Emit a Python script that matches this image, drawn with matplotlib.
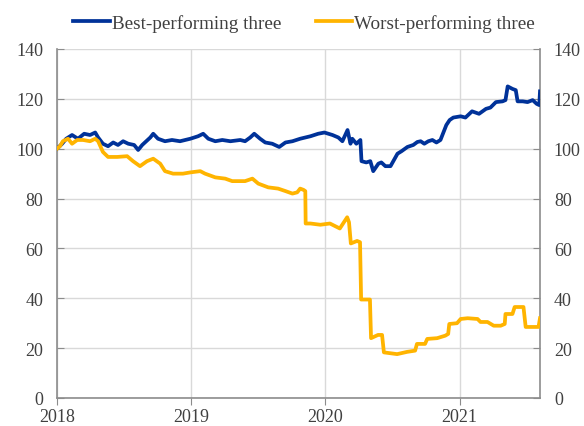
import pandas as pd
import matplotlib.pyplot as plt
import matplotlib.dates as mdates

plt.rcParams["font.family"] = ["Liberation Serif", "DejaVu Serif"]

best_dates = [
    "2018-01-01", "2018-01-15", "2018-01-26", "2018-02-11", "2018-02-27", "2018-03-16",
    "2018-04-01", "2018-04-15", "2018-04-23", "2018-05-06", "2018-05-20", "2018-06-03",
    "2018-06-16", "2018-06-30", "2018-07-14", "2018-07-30", "2018-08-10", "2018-08-21",
    "2018-09-01", "2018-09-12", "2018-09-20", "2018-10-03", "2018-10-22", "2018-11-10",
    "2018-12-02", "2018-12-30", "2019-01-20", "2019-02-03", "2019-02-17", "2019-03-08",
    "2019-03-27", "2019-04-18", "2019-05-15", "2019-05-28", "2019-06-11", "2019-06-22",
    "2019-07-08", "2019-07-22", "2019-08-10", "2019-08-29", "2019-09-15", "2019-10-04",
    "2019-10-25", "2019-11-22", "2019-12-13", "2019-12-30", "2020-01-21", "2020-02-06",
    "2020-02-17", "2020-03-02", "2020-03-10", "2020-03-15", "2020-03-26", "2020-04-06",
    "2020-04-09", "2020-04-22", "2020-05-03", "2020-05-11", "2020-05-25", "2020-06-02",
    "2020-06-13", "2020-06-27", "2020-07-16", "2020-07-27", "2020-08-12", "2020-08-28",
    "2020-09-08", "2020-09-17", "2020-09-27", "2020-10-08", "2020-10-19", "2020-10-30",
    "2020-11-10", "2020-11-18", "2020-11-26", "2020-12-05", "2020-12-15", "2021-01-04",
    "2021-01-17", "2021-02-04", "2021-02-23", "2021-03-14", "2021-03-26", "2021-04-10",
    "2021-04-28", "2021-05-06", "2021-05-12", "2021-05-25", "2021-06-03", "2021-06-08",
    "2021-06-22", "2021-07-05", "2021-07-19", "2021-07-30", "2021-08-06", "2021-08-08",
]
best_vals = [
    100, 102, 104, 105.5, 104, 106,
    105.5, 106.5, 104.5, 102, 101, 102.5,
    101.5, 103, 102, 101.5, 99.5, 101.5,
    103, 104.5, 106, 104, 103, 103.5,
    103, 104, 105, 106, 104, 103,
    103.5, 103, 103.5, 103, 104.5, 106,
    104, 102.5, 102, 100.7, 102.5, 103,
    104, 105, 106, 106.5, 105.5, 104.5,
    103, 107.5, 102, 104, 102, 103.5,
    95, 94.5, 95, 91, 94, 94.5,
    93, 93, 98, 99, 100.7, 101.5,
    102.7, 103, 102, 103, 103.5, 102.5,
    103.5, 106.5, 109.5, 111.5, 112.5, 113,
    112.5, 115, 114, 116, 116.5, 118.7,
    119, 119.5, 125, 124, 123.5, 119,
    119, 118.7, 119.5, 118, 117.5, 123,
]

worst_dates = [
    "2018-01-01", "2018-01-09", "2018-01-17", "2018-01-31", "2018-02-11", "2018-02-25",
    "2018-03-13", "2018-04-01", "2018-04-15", "2018-04-23", "2018-05-06", "2018-05-20",
    "2018-06-14", "2018-07-11", "2018-07-27", "2018-08-15", "2018-09-03", "2018-09-20",
    "2018-10-09", "2018-10-22", "2018-11-13", "2018-12-10", "2018-12-30", "2019-01-26",
    "2019-02-08", "2019-03-08", "2019-04-04", "2019-04-23", "2019-05-28", "2019-06-17",
    "2019-07-03", "2019-07-30", "2019-08-26", "2019-09-15", "2019-10-04", "2019-10-17",
    "2019-10-25", "2019-11-03", "2019-11-08", "2019-11-09", "2019-11-22", "2019-12-19",
    "2020-01-14", "2020-02-10", "2020-03-01", "2020-03-06", "2020-03-11", "2020-03-28",
    "2020-04-05", "2020-04-08", "2020-05-02", "2020-05-05", "2020-05-24", "2020-06-04",
    "2020-06-09", "2020-07-15", "2020-08-11", "2020-09-02", "2020-09-07", "2020-09-29",
    "2020-10-05", "2020-11-01", "2020-11-23", "2020-12-01", "2020-12-04", "2020-12-25",
    "2021-01-04", "2021-01-23", "2021-02-19", "2021-02-27", "2021-03-18", "2021-04-04",
    "2021-04-23", "2021-05-04", "2021-05-06", "2021-05-25", "2021-05-31", "2021-06-24",
    "2021-06-30", "2021-08-04", "2021-08-08",
]
worst_vals = [
    100, 101, 103, 104, 102, 103.5,
    103.5, 103, 104, 103, 98.7, 96.7,
    96.7, 97, 95, 93, 95, 96,
    94, 91, 90, 90, 90.5, 91,
    90, 88.5, 88, 87, 87, 88,
    86, 84.5, 84, 83, 82, 82.5,
    84, 83.5, 83, 70, 70, 69.5,
    70, 68, 72.5, 70.5, 62, 63,
    62.5, 39.5, 39.5, 24, 25.3, 25.3,
    18.3, 17.6, 18.5, 19, 21.7, 21.7,
    23.7, 24, 25, 25.7, 29.7, 30,
    31.7, 32, 31.7, 30.5, 30.5, 29,
    29, 29.7, 33.7, 33.7, 36.5, 36.5,
    28.5, 28.5, 32,
]

series_labels = ["Best-performing three", "Worst-performing three"]
y_ticks = [0, 20, 40, 60, 80, 100, 120, 140]
x_years = ["2018", "2019", "2020", "2021"]

best = pd.Series(best_vals, index=pd.to_datetime(best_dates))
worst = pd.Series(worst_vals, index=pd.to_datetime(worst_dates))

blue = "#003299"
yellow = "#FFB400"
grey = "#8c8c8c"

fig = plt.figure(figsize=(5.84, 4.27), dpi=100)
ax = fig.add_axes([57 / 584, 1 - 399 / 427, (540 - 57) / 584, (399 - 50) / 427])

l1, = ax.plot(best.index, best.values, color=blue, lw=2.7, label=series_labels[0], zorder=3)
l2, = ax.plot(worst.index, worst.values, color=yellow, lw=2.7, label=series_labels[1], zorder=3)

ax.set_ylim(0, 140)
ax.set_yticks(y_ticks)
ax.set_xlim(pd.Timestamp("2018-01-01"), best.index[-1])
ax.set_xticks(pd.to_datetime([y + "-01-01" for y in x_years]))
ax.xaxis.set_major_formatter(mdates.DateFormatter("%Y"))

ax.grid(True, color="#d9d9d9", lw=1)
ax.set_axisbelow(True)
for s in ["left", "right", "bottom"]:
    ax.spines[s].set_color(grey)
    ax.spines[s].set_linewidth(1.2)
ax.spines["top"].set_visible(False)

ax.tick_params(axis="y", direction="in", length=5, color=grey, labelsize=13,
               labelcolor="#404040", left=True, right=True, labelleft=True, labelright=True, pad=10)
ax.tick_params(axis="x", direction="out", length=5, color=grey, labelsize=13,
               labelcolor="#404040", pad=2)

fig.legend(handles=[l1, l2], loc="center", bbox_to_anchor=(304 / 584, 1 - 24 / 427), ncol=2,
           frameon=False, fontsize=13.8, handlelength=1.9, handletextpad=0.1, columnspacing=1.8,
           labelcolor="#404040")

fig.savefig("out.png", dpi=100)
